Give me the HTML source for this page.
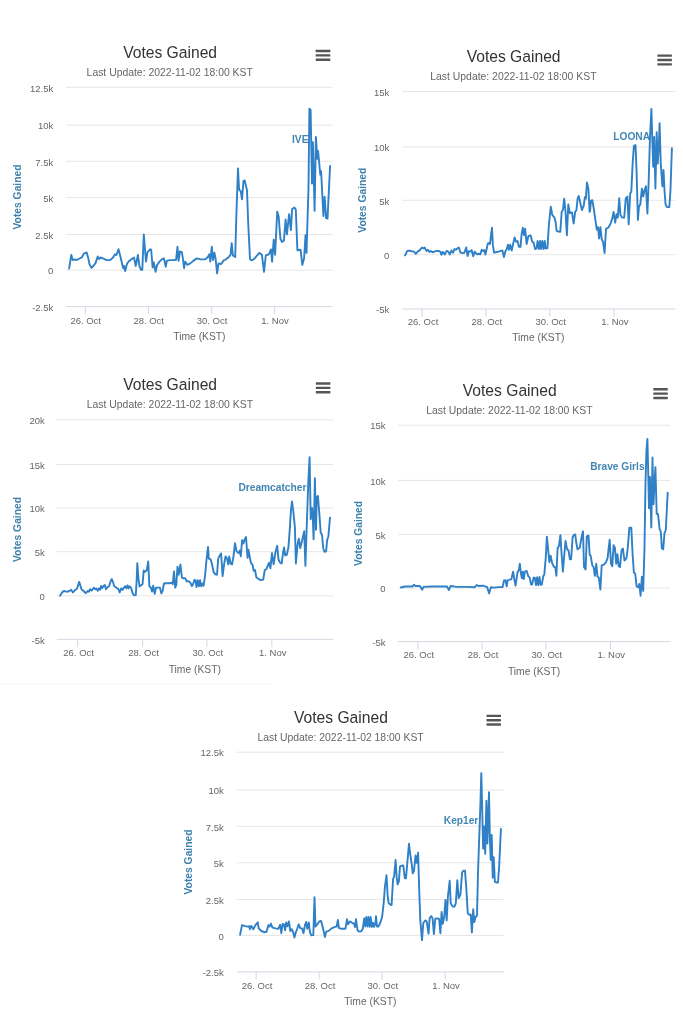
<!DOCTYPE html>
<html><head><meta charset="utf-8"><title>Votes Gained</title>
<style>html,body{margin:0;padding:0;background:#fff}body{width:683px;height:1024px;overflow:hidden}svg{display:block;filter:blur(0.6px)}text{font-family:"Liberation Sans",sans-serif}.t{font-size:15.65px;fill:#333;text-anchor:middle}.s{font-size:10.4px;fill:#666;text-anchor:middle}.y{font-size:9.5px;fill:#666;text-anchor:end}.x{font-size:9.5px;fill:#666;text-anchor:middle}.xt{font-size:10.3px;fill:#666;text-anchor:middle}.yt{font-size:10.3px;font-weight:bold;fill:#3d82ac;text-anchor:middle}.d{font-size:10.2px;font-weight:bold;fill:#4286b2}.g{stroke:#e6e6e6;stroke-width:1}.a{stroke:#d3d9e3;stroke-width:1}.l{fill:none;stroke:#2f80c6;stroke-width:1.9;stroke-linejoin:round;stroke-linecap:round}.h{fill:#555}</style></head><body>
<svg width="683" height="1024" viewBox="0 0 683 1024">
<rect width="683" height="1024" fill="#fff"/>
<rect x="0" y="683" width="272" height="1.6" fill="#f8f8f8"/>
<g>
<line class="g" x1="66.0" x2="332.5" y1="87.3" y2="87.3"/>
<line class="g" x1="66.0" x2="332.5" y1="125.2" y2="125.2"/>
<line class="g" x1="66.0" x2="332.5" y1="161.3" y2="161.3"/>
<line class="g" x1="66.0" x2="332.5" y1="197.6" y2="197.6"/>
<line class="g" x1="66.0" x2="332.5" y1="234.5" y2="234.5"/>
<line class="g" x1="66.0" x2="332.5" y1="270.2" y2="270.2"/>
<line class="a" x1="66.0" x2="332.5" y1="306.6" y2="306.6"/>
<line class="a" x1="85.4" x2="85.4" y1="306.6" y2="314.4"/>
<line class="a" x1="148.4" x2="148.4" y1="306.6" y2="314.4"/>
<line class="a" x1="211.7" x2="211.7" y1="306.6" y2="314.4"/>
<line class="a" x1="274.7" x2="274.7" y1="306.6" y2="314.4"/>
<text class="y" x="53.3" y="91.5">12.5k</text>
<text class="y" x="53.3" y="129.4">10k</text>
<text class="y" x="53.3" y="165.5">7.5k</text>
<text class="y" x="53.3" y="201.8">5k</text>
<text class="y" x="53.3" y="238.7">2.5k</text>
<text class="y" x="53.3" y="274.4">0</text>
<text class="y" x="53.3" y="310.8">-2.5k</text>
<text class="x" x="85.7" y="323.6">26. Oct</text>
<text class="x" x="148.7" y="323.6">28. Oct</text>
<text class="x" x="212.0" y="323.6">30. Oct</text>
<text class="x" x="275.0" y="323.6">1. Nov</text>
<text class="xt" x="199.4" y="339.8">Time (KST)</text>
<text class="yt" transform="translate(17.4,197.0) rotate(-90)" x="0" y="3.7">Votes Gained</text>
<text class="t" x="170.1" y="57.9">Votes Gained</text>
<text class="s" x="169.7" y="75.5">Last Update: 2022-11-02 18:00 KST</text>
<rect class="h" x="315.7" y="49.80" width="14.6" height="2.4" rx="0.4"/>
<rect class="h" x="315.7" y="54.20" width="14.6" height="2.4" rx="0.4"/>
<rect class="h" x="315.7" y="58.60" width="14.6" height="2.4" rx="0.4"/>
<text class="d" x="292.0" y="143.2">IVE</text>
<polyline class="l" points="69.1,268.6 71.3,255.0 72.8,260.1 75.0,259.4 76.4,260.1 78.6,259.0 79.8,258.4 81.9,257.2 83.8,253.6 86.7,252.5 88.2,257.9 89.6,264.5 91.5,267.9 93.3,266.0 95.5,263.1 97.7,256.5 99.1,259.0 100.6,257.5 103.5,258.7 106.5,260.1 110.1,260.1 113.0,257.5 115.0,254.3 116.4,255.0 118.5,249.2 120.4,256.5 122.6,266.0 123.3,268.2 124.0,266.0 125.2,271.1 127.0,263.8 129.2,260.9 132.1,258.7 134.0,257.5 135.7,266.0 137.9,255.0 139.4,266.0 140.9,269.7 142.3,269.7 143.8,234.5 146.0,261.6 147.5,252.1 150.4,249.2 151.2,249.9 152.6,267.5 153.7,262.3 155.6,271.9 157.0,265.3 159.5,261.6 161.7,259.4 163.9,258.4 165.8,266.7 166.8,260.9 169.8,260.1 173.4,260.1 176.1,259.8 177.5,246.7 178.6,260.9 180.0,251.4 181.9,252.1 182.9,258.7 184.1,268.2 185.1,261.6 187.3,264.8 190.3,263.4 193.2,260.9 196.9,258.4 200.5,259.4 204.9,259.4 207.8,257.2 209.3,254.3 210.3,261.6 211.8,246.7 213.0,260.1 214.4,252.8 215.6,258.7 217.1,273.3 218.5,263.4 221.0,264.2 223.9,260.1 225.0,259.9 228.5,257.3 230.6,254.7 231.7,243.2 232.9,255.5 235.2,256.9 236.4,214.2 238.0,168.5 239.1,189.6 240.8,191.4 242.0,199.3 243.5,180.8 244.7,180.5 247.0,190.5 248.2,223.0 250.0,259.1 251.4,260.3 254.0,259.1 256.3,256.4 259.3,252.9 261.9,254.7 264.0,271.9 265.8,255.5 268.9,254.3 271.0,249.4 272.1,261.7 273.7,239.7 275.1,254.7 277.2,211.6 278.6,216.0 280.4,238.8 282.1,242.0 283.9,240.6 285.6,219.5 286.9,234.4 289.1,214.2 290.9,230.1 292.1,209.0 294.4,207.6 295.8,209.8 297.4,250.3 300.6,249.7 302.3,264.9 304.1,258.2 305.5,235.3 306.5,252.9 308.5,187.9 309.4,108.8 310.6,109.7 312.0,183.5 312.9,142.2 314.6,210.7 315.9,136.9 317.3,158.9 318.1,151.0 320.3,174.7 321.1,171.2 323.4,216.0 324.6,196.7 326.1,218.1 327.5,218.6 330.1,165.9"/>
</g>
<g>
<line class="g" x1="402.5" x2="675.3" y1="91.5" y2="91.5"/>
<line class="g" x1="402.5" x2="675.3" y1="146.9" y2="146.9"/>
<line class="g" x1="402.5" x2="675.3" y1="200.3" y2="200.3"/>
<line class="g" x1="402.5" x2="675.3" y1="254.7" y2="254.7"/>
<line class="a" x1="402.5" x2="675.3" y1="309.0" y2="309.0"/>
<line class="a" x1="422.1" x2="422.1" y1="309.0" y2="316.8"/>
<line class="a" x1="485.9" x2="485.9" y1="309.0" y2="316.8"/>
<line class="a" x1="549.8" x2="549.8" y1="309.0" y2="316.8"/>
<line class="a" x1="614.0" x2="614.0" y1="309.0" y2="316.8"/>
<text class="y" x="389.3" y="95.7">15k</text>
<text class="y" x="389.3" y="151.1">10k</text>
<text class="y" x="389.3" y="204.5">5k</text>
<text class="y" x="389.3" y="258.9">0</text>
<text class="y" x="389.3" y="313.2">-5k</text>
<text class="x" x="423.0" y="324.8">26. Oct</text>
<text class="x" x="486.8" y="324.8">28. Oct</text>
<text class="x" x="550.7" y="324.8">30. Oct</text>
<text class="x" x="614.9" y="324.8">1. Nov</text>
<text class="xt" x="538.3" y="341.2">Time (KST)</text>
<text class="yt" transform="translate(362.5,200.2) rotate(-90)" x="0" y="3.7">Votes Gained</text>
<text class="t" x="513.6" y="62.4">Votes Gained</text>
<text class="s" x="513.4" y="79.8">Last Update: 2022-11-02 18:00 KST</text>
<rect class="h" x="657.4" y="54.40" width="14.5" height="2.4" rx="0.4"/>
<rect class="h" x="657.4" y="58.80" width="14.5" height="2.4" rx="0.4"/>
<rect class="h" x="657.4" y="63.20" width="14.5" height="2.4" rx="0.4"/>
<text class="d" x="613.3" y="139.5">LOONA</text>
<polyline class="l" points="405.1,255.3 407.3,250.9 409.5,250.6 411.7,251.3 413.9,251.6 415.8,253.8 417.6,251.6 419.8,250.1 422.0,247.5 423.4,248.4 424.6,247.5 426.4,250.9 427.8,249.8 429.3,251.9 430.7,250.9 432.5,252.3 435.1,251.3 438.4,250.9 440.3,251.6 441.4,254.8 442.8,251.9 444.7,254.5 446.6,250.9 448.3,251.6 449.8,254.5 451.5,250.4 453.0,252.8 454.5,249.0 455.9,249.8 457.4,248.4 458.9,247.5 460.3,252.3 462.2,253.1 464.4,252.8 466.2,247.5 467.6,256.0 468.8,251.3 470.6,251.6 471.7,250.1 473.2,256.3 474.7,251.6 476.9,254.2 479.1,253.8 480.2,254.5 481.7,249.8 483.2,250.9 484.2,250.1 485.4,254.5 486.7,248.7 487.8,243.6 489.3,242.8 490.0,244.0 491.2,233.7 492.0,227.8 492.9,245.4 494.1,252.7 496.6,252.0 499.5,251.3 502.4,250.5 503.9,257.1 505.4,251.3 506.8,249.1 507.9,244.7 509.0,249.8 510.2,244.7 511.7,250.5 513.1,244.0 514.6,237.4 516.1,241.8 517.5,241.0 519.0,246.9 520.5,246.9 521.5,235.2 522.8,227.8 524.0,235.2 525.1,228.6 526.6,244.0 528.4,235.9 530.7,235.5 532.2,241.8 533.6,242.5 535.1,249.1 536.6,248.3 537.6,241.0 539.0,249.1 540.1,241.0 541.2,249.1 542.4,241.0 543.6,249.1 544.8,241.0 545.6,248.3 547.4,248.3 548.9,224.9 550.8,206.6 552.2,214.7 554.4,217.6 555.6,222.0 556.6,230.8 558.1,231.5 560.3,231.9 561.7,211.7 562.9,210.0 564.2,198.6 565.4,210.3 566.9,235.2 568.3,204.4 569.8,213.2 572.0,212.5 573.7,223.5 575.2,211.7 576.4,210.3 577.6,198.6 578.7,195.9 580.0,201.5 581.9,210.0 583.7,205.9 584.9,197.1 585.9,198.6 586.9,182.5 588.4,189.0 589.6,211.7 590.1,211.1 591.0,200.6 592.3,200.2 593.9,209.5 595.5,220.8 596.8,229.6 598.0,227.2 599.1,238.5 600.4,227.2 601.7,239.3 603.0,241.7 604.6,253.0 606.0,228.8 608.4,227.5 610.4,224.0 612.5,217.6 613.6,211.9 615.2,222.7 616.5,214.3 617.8,217.6 619.2,198.2 620.5,215.1 622.1,217.6 624.2,217.6 625.8,198.2 627.4,196.6 628.7,224.3 630.2,193.4 631.3,191.8 632.6,164.4 633.9,145.9 635.5,145.1 636.6,172.5 637.9,220.0 639.0,206.3 640.3,204.7 641.9,188.6 643.2,196.6 644.5,190.2 645.9,186.2 647.4,213.5 648.7,180.5 650.0,137.0 651.4,108.9 652.2,137.0 653.2,166.8 654.2,137.0 655.4,188.6 656.7,132.2 657.7,163.6 658.7,148.3 659.6,123.3 660.8,164.4 662.4,186.2 663.5,170.0 664.5,190.2 665.6,204.7 667.2,207.1 669.3,207.1 670.4,191.8 671.9,148.3"/>
</g>
<g>
<line class="g" x1="56.7" x2="333.0" y1="419.8" y2="419.8"/>
<line class="g" x1="56.7" x2="333.0" y1="464.5" y2="464.5"/>
<line class="g" x1="56.7" x2="333.0" y1="508.1" y2="508.1"/>
<line class="g" x1="56.7" x2="333.0" y1="551.7" y2="551.7"/>
<line class="g" x1="56.7" x2="333.0" y1="595.8" y2="595.8"/>
<line class="a" x1="56.7" x2="333.0" y1="639.3" y2="639.3"/>
<line class="a" x1="77.7" x2="77.7" y1="639.3" y2="647.1"/>
<line class="a" x1="142.6" x2="142.6" y1="639.3" y2="647.1"/>
<line class="a" x1="206.9" x2="206.9" y1="639.3" y2="647.1"/>
<line class="a" x1="271.8" x2="271.8" y1="639.3" y2="647.1"/>
<text class="y" x="44.8" y="424.0">20k</text>
<text class="y" x="44.8" y="468.7">15k</text>
<text class="y" x="44.8" y="512.3">10k</text>
<text class="y" x="44.8" y="555.9">5k</text>
<text class="y" x="44.8" y="600.0">0</text>
<text class="y" x="44.8" y="643.5">-5k</text>
<text class="x" x="78.6" y="656.0">26. Oct</text>
<text class="x" x="143.5" y="656.0">28. Oct</text>
<text class="x" x="207.8" y="656.0">30. Oct</text>
<text class="x" x="272.7" y="656.0">1. Nov</text>
<text class="xt" x="194.8" y="672.7">Time (KST)</text>
<text class="yt" transform="translate(16.8,529.5) rotate(-90)" x="0" y="3.7">Votes Gained</text>
<text class="t" x="170.1" y="389.9">Votes Gained</text>
<text class="s" x="169.9" y="407.8">Last Update: 2022-11-02 18:00 KST</text>
<rect class="h" x="315.8" y="382.30" width="14.6" height="2.4" rx="0.4"/>
<rect class="h" x="315.8" y="386.70" width="14.6" height="2.4" rx="0.4"/>
<rect class="h" x="315.8" y="391.10" width="14.6" height="2.4" rx="0.4"/>
<text class="d" x="238.4" y="491.4">Dreamcatcher</text>
<polyline class="l" points="60.1,595.7 62.0,592.5 63.8,591.0 66.7,591.7 68.9,591.3 71.1,589.8 72.9,592.5 74.8,590.3 77.0,588.8 78.1,585.1 79.2,581.9 80.2,585.1 81.6,589.5 83.6,591.0 85.7,593.2 87.9,591.0 89.0,591.7 90.1,589.2 91.6,590.7 93.8,587.8 95.3,589.2 96.4,588.4 97.8,590.7 98.9,588.4 100.1,589.8 101.1,585.9 102.1,588.1 103.6,585.9 104.8,585.1 106.0,589.2 107.4,587.3 109.2,585.9 110.6,581.5 111.8,579.0 112.8,581.5 114.3,586.3 116.5,587.8 118.3,588.8 119.7,592.5 121.2,588.4 122.6,589.8 124.1,587.3 125.3,586.3 126.4,588.4 127.5,585.4 128.6,588.4 129.7,586.3 131.1,587.8 132.6,593.2 134.1,595.4 135.8,595.1 136.7,579.3 137.3,563.2 138.5,579.3 139.6,586.6 141.4,585.1 142.6,584.0 143.7,570.5 145.0,571.7 146.8,570.3 148.2,561.5 149.4,586.4 150.9,587.8 152.0,591.5 153.2,585.7 154.7,593.7 156.0,587.8 158.2,587.6 159.9,587.6 161.4,593.4 162.6,590.8 164.0,583.5 166.2,583.2 169.2,583.2 172.1,582.7 172.8,584.2 174.0,571.4 175.2,587.6 176.3,584.9 177.5,566.6 178.7,574.7 180.4,564.4 181.9,577.6 183.4,578.3 185.3,578.3 186.7,581.3 188.6,581.3 190.4,582.7 191.9,586.1 193.0,584.2 194.5,579.8 195.5,580.5 196.5,587.1 197.7,580.2 198.9,586.4 200.1,580.2 201.2,586.4 202.4,583.5 203.6,585.7 205.0,576.1 206.5,560.0 208.0,546.9 208.8,558.6 210.6,559.3 212.1,564.4 213.5,571.7 215.3,574.4 217.0,574.7 218.2,558.6 219.7,555.6 221.1,553.4 222.6,576.1 224.1,564.4 225.5,556.4 227.0,558.6 228.2,564.4 229.2,556.4 230.7,563.7 232.1,564.4 233.6,555.6 235.0,543.2 236.6,551.4 238.5,553.1 239.8,550.6 240.8,556.3 242.1,540.2 243.4,543.4 244.7,539.4 246.0,537.0 247.6,557.9 248.5,549.8 249.8,557.1 251.1,563.5 252.4,564.3 253.7,570.8 255.0,570.0 256.3,577.2 258.3,578.8 260.8,580.1 263.2,579.6 264.8,570.0 266.4,569.2 268.0,565.1 269.1,562.7 270.4,568.4 272.0,553.1 273.6,564.3 275.3,553.1 277.2,545.8 278.5,559.5 280.1,562.7 281.7,563.5 283.0,553.1 284.1,547.4 285.2,555.5 286.9,554.7 288.5,546.6 289.8,528.9 291.0,509.6 292.0,501.5 293.3,511.2 294.9,527.3 295.9,563.5 297.5,545.0 298.8,538.6 300.2,548.2 301.8,541.8 303.3,535.3 304.2,531.3 305.4,565.9 306.7,527.3 308.3,482.2 309.6,457.2 310.7,519.2 312.0,508.0 312.8,517.6 313.6,539.4 314.9,478.2 316.0,529.7 316.8,496.7 317.9,495.9 319.4,514.4 320.7,532.9 322.0,534.5 323.2,548.2 324.5,551.8 326.1,551.4 327.1,540.2 328.4,536.2 330.0,517.6"/>
</g>
<g>
<line class="g" x1="398.0" x2="670.3" y1="425.2" y2="425.2"/>
<line class="g" x1="398.0" x2="670.3" y1="480.4" y2="480.4"/>
<line class="g" x1="398.0" x2="670.3" y1="534.5" y2="534.5"/>
<line class="g" x1="398.0" x2="670.3" y1="588.1" y2="588.1"/>
<line class="a" x1="398.0" x2="670.3" y1="641.6" y2="641.6"/>
<line class="a" x1="417.9" x2="417.9" y1="641.6" y2="649.4"/>
<line class="a" x1="482.1" x2="482.1" y1="641.6" y2="649.4"/>
<line class="a" x1="546.0" x2="546.0" y1="641.6" y2="649.4"/>
<line class="a" x1="610.4" x2="610.4" y1="641.6" y2="649.4"/>
<text class="y" x="385.6" y="429.4">15k</text>
<text class="y" x="385.6" y="484.6">10k</text>
<text class="y" x="385.6" y="538.7">5k</text>
<text class="y" x="385.6" y="592.3">0</text>
<text class="y" x="385.6" y="645.8">-5k</text>
<text class="x" x="418.8" y="658.3">26. Oct</text>
<text class="x" x="483.0" y="658.3">28. Oct</text>
<text class="x" x="546.9" y="658.3">30. Oct</text>
<text class="x" x="611.3" y="658.3">1. Nov</text>
<text class="xt" x="534.0" y="674.8">Time (KST)</text>
<text class="yt" transform="translate(358.5,533.4) rotate(-90)" x="0" y="3.7">Votes Gained</text>
<text class="t" x="509.7" y="395.9">Votes Gained</text>
<text class="s" x="509.4" y="413.5">Last Update: 2022-11-02 18:00 KST</text>
<rect class="h" x="653.3" y="388.10" width="14.5" height="2.4" rx="0.4"/>
<rect class="h" x="653.3" y="392.45" width="14.5" height="2.4" rx="0.4"/>
<rect class="h" x="653.3" y="396.80" width="14.5" height="2.4" rx="0.4"/>
<text class="d" x="590.2" y="470.0">Brave Girls</text>
<polyline class="l" points="400.9,587.5 405.2,586.5 412.6,586.5 414.0,584.7 415.5,586.0 419.9,586.0 422.1,589.8 423.6,586.9 431.6,586.5 447.0,586.5 448.9,590.1 450.6,586.0 456.5,586.9 468.2,586.9 474.8,587.2 476.7,585.0 478.5,586.0 482.8,585.7 487.2,587.2 489.1,593.4 490.9,587.2 493.8,587.6 498.2,587.1 502.6,587.1 504.0,580.5 505.5,580.2 506.7,586.4 507.7,580.2 509.2,579.8 511.4,579.1 513.1,571.7 514.3,579.1 515.5,585.7 516.5,579.1 517.5,572.5 519.0,569.5 519.8,563.7 520.9,573.2 521.9,578.3 522.8,571.7 523.8,579.1 524.8,571.7 526.7,571.0 528.2,576.1 529.7,577.6 531.1,584.6 532.1,584.6 533.6,577.6 534.8,577.6 536.0,585.2 537.1,577.3 538.3,585.2 539.5,576.9 540.6,584.9 541.8,584.6 543.3,576.1 544.3,574.7 545.8,557.1 546.9,536.6 548.0,548.3 549.4,562.2 550.6,555.6 552.1,563.0 553.8,566.6 555.3,567.3 556.4,575.8 557.6,548.3 558.9,546.1 560.4,535.1 561.4,551.2 562.9,571.7 564.1,557.1 565.5,541.0 567.0,549.0 568.5,550.5 569.9,559.3 571.1,559.3 572.6,537.3 574.0,534.8 575.2,534.4 576.2,542.1 577.5,549.3 579.8,547.7 581.4,538.1 583.0,531.3 584.0,567.0 585.6,569.5 586.8,536.4 588.5,535.6 589.7,555.0 590.7,555.8 592.3,565.4 593.6,567.0 594.9,575.9 596.3,563.8 597.5,576.7 598.8,577.5 600.4,589.6 601.7,565.4 603.9,564.6 606.0,562.2 607.6,558.2 608.7,547.7 609.7,539.7 611.0,563.8 612.3,566.2 613.6,545.3 614.9,547.7 616.2,563.8 617.4,554.2 618.7,566.2 620.0,567.0 621.6,550.1 622.9,548.5 624.5,560.6 626.5,558.2 627.8,547.7 629.4,527.6 631.3,527.6 632.6,554.2 633.9,572.7 635.2,573.5 636.6,586.4 638.2,587.2 639.3,584.0 640.6,595.7 641.9,576.7 643.2,590.9 644.5,547.7 645.5,483.3 646.4,451.1 647.4,439.0 648.4,480.1 649.0,508.3 650.0,476.9 651.3,527.6 652.5,457.5 653.5,504.2 654.5,483.3 655.4,467.2 656.7,513.9 658.0,513.9 659.6,529.2 660.8,531.6 661.9,548.5 663.2,549.3 664.5,533.2 665.8,530.0 667.7,492.6"/>
</g>
<g>
<line class="g" x1="236.7" x2="503.8" y1="752.2" y2="752.2"/>
<line class="g" x1="236.7" x2="503.8" y1="790.1" y2="790.1"/>
<line class="g" x1="236.7" x2="503.8" y1="826.3" y2="826.3"/>
<line class="g" x1="236.7" x2="503.8" y1="862.8" y2="862.8"/>
<line class="g" x1="236.7" x2="503.8" y1="899.4" y2="899.4"/>
<line class="g" x1="236.7" x2="503.8" y1="935.4" y2="935.4"/>
<line class="a" x1="236.7" x2="503.8" y1="971.9" y2="971.9"/>
<line class="a" x1="256.1" x2="256.1" y1="971.9" y2="979.7"/>
<line class="a" x1="319.1" x2="319.1" y1="971.9" y2="979.7"/>
<line class="a" x1="381.9" x2="381.9" y1="971.9" y2="979.7"/>
<line class="a" x1="445.2" x2="445.2" y1="971.9" y2="979.7"/>
<text class="y" x="223.8" y="756.4">12.5k</text>
<text class="y" x="223.8" y="794.3">10k</text>
<text class="y" x="223.8" y="830.5">7.5k</text>
<text class="y" x="223.8" y="867.0">5k</text>
<text class="y" x="223.8" y="903.6">2.5k</text>
<text class="y" x="223.8" y="939.6">0</text>
<text class="y" x="223.8" y="976.1">-2.5k</text>
<text class="x" x="257.0" y="988.6">26. Oct</text>
<text class="x" x="320.0" y="988.6">28. Oct</text>
<text class="x" x="382.8" y="988.6">30. Oct</text>
<text class="x" x="446.1" y="988.6">1. Nov</text>
<text class="xt" x="370.3" y="1005.2">Time (KST)</text>
<text class="yt" transform="translate(187.9,862.0) rotate(-90)" x="0" y="3.7">Votes Gained</text>
<text class="t" x="340.9" y="722.9">Votes Gained</text>
<text class="s" x="340.6" y="740.5">Last Update: 2022-11-02 18:00 KST</text>
<rect class="h" x="486.5" y="714.70" width="14.5" height="2.4" rx="0.4"/>
<rect class="h" x="486.5" y="719.00" width="14.5" height="2.4" rx="0.4"/>
<rect class="h" x="486.5" y="723.30" width="14.5" height="2.4" rx="0.4"/>
<text class="d" x="443.8" y="823.9">Kep1er</text>
<polyline class="l" points="240.1,934.7 242.0,925.1 244.5,925.9 247.4,926.6 249.3,926.3 249.9,929.2 251.4,925.9 253.3,929.2 255.5,925.1 257.7,922.2 258.7,928.4 261.4,931.0 264.3,932.2 266.5,931.7 268.4,925.1 269.4,926.6 270.9,923.7 272.3,927.3 275.3,928.4 278.2,928.8 280.1,924.8 281.3,933.2 282.6,924.0 284.0,924.4 285.1,930.3 286.2,922.5 287.4,926.3 288.9,921.5 290.3,931.0 291.8,929.2 293.3,932.5 294.4,937.6 295.8,932.5 297.2,928.8 298.7,924.4 300.2,928.1 302.1,928.4 303.5,933.2 305.0,925.1 306.2,921.9 307.3,928.8 308.8,922.5 310.0,932.5 311.4,935.4 313.3,935.1 314.5,897.3 315.5,926.6 317.3,924.4 319.2,921.5 321.1,921.0 322.8,927.3 324.9,937.1 326.2,931.6 328.7,930.9 331.6,928.4 335.0,926.9 336.7,926.5 337.9,919.9 338.9,928.0 341.1,928.7 345.5,928.7 347.0,919.2 348.1,924.3 349.9,921.4 352.1,922.8 354.0,923.6 355.0,927.2 356.0,919.2 357.5,930.2 359.0,931.6 361.3,931.3 362.8,928.7 364.2,918.5 365.3,926.5 366.3,917.0 367.5,926.5 368.5,917.0 369.7,926.9 370.7,917.0 371.9,926.9 373.0,922.8 374.2,926.9 375.4,922.8 376.0,916.3 377.0,926.5 378.4,926.5 380.3,922.8 382.1,917.0 383.6,903.8 385.0,886.2 386.5,875.3 387.7,896.5 388.7,903.1 390.2,904.5 391.6,905.0 393.1,878.9 394.1,876.7 395.6,859.9 396.7,877.5 397.6,884.5 398.9,881.1 400.0,866.5 401.9,865.7 403.3,865.5 404.8,878.2 406.0,878.2 407.3,862.8 409.0,843.8 410.2,854.0 411.7,864.3 412.8,873.4 414.0,870.9 415.5,855.5 416.7,862.8 418.1,852.6 419.2,889.6 420.3,920.4 422.0,940.1 423.3,923.0 425.4,920.4 426.7,921.3 428.5,933.7 429.7,917.8 431.4,916.1 432.6,918.7 433.9,934.1 435.3,918.7 437.3,918.4 439.1,919.0 440.4,933.2 441.6,911.9 442.8,923.8 444.2,917.0 445.5,899.9 446.7,920.4 447.9,896.5 449.7,880.8 450.7,903.3 452.4,906.4 454.4,906.7 455.8,903.3 457.3,880.2 458.7,898.2 460.4,894.8 462.1,872.5 463.3,870.8 465.0,870.8 466.4,889.6 467.8,913.6 469.5,914.9 470.7,914.4 471.9,932.4 473.2,909.3 474.3,922.1 475.6,917.0 477.0,915.6 478.0,872.5 479.2,838.4 480.4,804.2 481.3,773.1 482.1,804.2 483.1,848.6 484.2,826.4 485.2,853.7 486.4,800.8 487.4,843.5 489.0,792.2 489.8,834.9 490.7,859.7 491.7,834.9 492.7,877.7 493.7,857.2 494.9,881.9 496.3,882.5 498.0,882.5 499.2,865.7 500.9,829.0"/>
</g>
</svg></body></html>
